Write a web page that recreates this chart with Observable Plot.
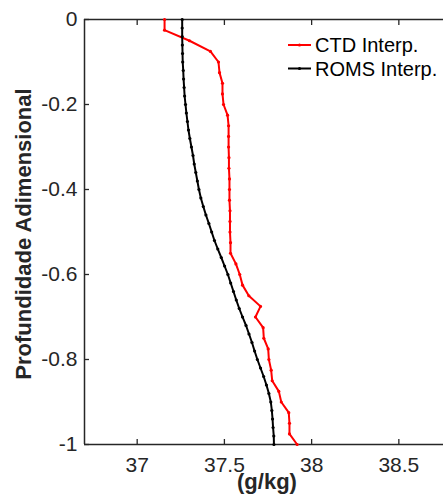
<!DOCTYPE html>
<html>
<head>
<meta charset="utf-8">
<script src="https://cdn.jsdelivr.net/npm/d3@7"></script>
<script src="https://cdn.jsdelivr.net/npm/@observablehq/plot@0.6"></script>
<style>
  html, body { margin: 0; padding: 0; background: #fff; }
  #chart svg { display: block; }
</style>
</head>
<body>
<div id="chart"></div>
<script>
// ---- data ----
const ctdDepth = [0, -0.025, -0.05, -0.075, -0.1, -0.125, -0.15, -0.175, -0.2, -0.225,
  -0.25, -0.275, -0.3, -0.325, -0.35, -0.375, -0.4, -0.425, -0.45, -0.475,
  -0.5, -0.525, -0.55, -0.575, -0.6, -0.625, -0.65, -0.675, -0.7, -0.725,
  -0.75, -0.775, -0.8, -0.825, -0.85, -0.875, -0.9, -0.925, -0.95, -0.975, -1];
const ctdSal = [37.157, 37.157, 37.300, 37.420, 37.466, 37.472, 37.489, 37.489, 37.495, 37.518,
  37.524, 37.524, 37.524, 37.526, 37.526, 37.529, 37.529, 37.529, 37.532, 37.532,
  37.532, 37.535, 37.535, 37.566, 37.588, 37.604, 37.640, 37.707, 37.678, 37.722,
  37.726, 37.751, 37.755, 37.768, 37.774, 37.812, 37.826, 37.869, 37.873, 37.873, 37.917];

const romsDepth = [0, -0.02, -0.04, -0.06, -0.08, -0.1, -0.12, -0.14, -0.16, -0.18,
  -0.2, -0.22, -0.24, -0.26, -0.28, -0.3, -0.32, -0.34, -0.36, -0.38,
  -0.4, -0.42, -0.44, -0.46, -0.48, -0.5, -0.52, -0.54, -0.56, -0.58,
  -0.6, -0.62, -0.64, -0.66, -0.68, -0.7, -0.72, -0.74, -0.76, -0.78,
  -0.8, -0.82, -0.84, -0.86, -0.88, -0.9, -0.92, -0.94, -0.96, -0.98, -1];
const romsSal = [37.258, 37.258, 37.258, 37.259, 37.260, 37.261, 37.264, 37.266, 37.269, 37.272,
  37.277, 37.282, 37.288, 37.294, 37.302, 37.311, 37.320, 37.327, 37.336, 37.345,
  37.354, 37.365, 37.379, 37.394, 37.411, 37.427, 37.443, 37.462, 37.482, 37.501,
  37.520, 37.536, 37.552, 37.568, 37.585, 37.604, 37.624, 37.641, 37.658, 37.673,
  37.689, 37.707, 37.725, 37.741, 37.755, 37.766, 37.772, 37.776, 37.779, 37.783, 37.784];

const seriesNames = ["CTD Interp.", "ROMS Interp."];
const seriesColors = ["#ff0000", "#000000"];
const xTicks = [37, 37.5, 38, 38.5];
const yTicks = [0, -0.2, -0.4, -0.6, -0.8, -1];
const xDomain = [36.698, 38.756];
const yDomain = [-1, 0];
const xLabel = "(g/kg)";
const yLabel = "Profundidade Adimensional";

const ctd = ctdDepth.map((d, i) => ({depth: d, sal: ctdSal[i]}));
const roms = romsDepth.map((d, i) => ({depth: d, sal: romsSal[i]}));

const axisColor = "#262626";
const font = "'Liberation Sans', Arial, Helvetica, sans-serif";

const plot = Plot.plot({
  width: 443,
  height: 498,
  marginLeft: 84,
  marginRight: 0,
  marginTop: 19,
  marginBottom: 54,
  style: {fontFamily: font, fontSize: "21px", color: axisColor, background: "#fff"},
  x: {domain: xDomain},
  y: {domain: yDomain},
  marks: [
    Plot.axisY({ticks: yTicks, tickSize: -5, tickPadding: 12, tickFormat: d => String(d), label: null, strokeWidth: 1.3, stroke: axisColor, fill: axisColor, fontSize: 21}),
    Plot.axisX({ticks: xTicks, tickSize: -5, tickPadding: 18, tickFormat: d => String(d), label: null, strokeWidth: 1.3, stroke: axisColor, fill: axisColor, fontSize: 21}),
    Plot.axisX({anchor: "top", ticks: xTicks, tickSize: -5, tickFormat: () => "", label: null, strokeWidth: 1.3, stroke: axisColor}),
    Plot.ruleX([xDomain[0]], {stroke: axisColor, strokeWidth: 1.5}),
    Plot.ruleY(yDomain, {stroke: axisColor, strokeWidth: 1.5}),
    Plot.line(ctd, {x: "sal", y: "depth", stroke: seriesColors[0], strokeWidth: 2}),
    Plot.dot(ctd, {x: "sal", y: "depth", r: 1.6, fill: seriesColors[0], stroke: null}),
    Plot.line(roms, {x: "sal", y: "depth", stroke: seriesColors[1], strokeWidth: 2}),
    Plot.dot(roms, {x: "sal", y: "depth", r: 1.6, fill: seriesColors[1], stroke: null})
  ]
});

const svg = d3.select(plot);
// axis titles
svg.append("text")
  .attr("transform", "translate(31,234) rotate(-90)")
  .attr("text-anchor", "middle")
  .attr("font-family", font).attr("font-size", 22).attr("font-weight", "bold")
  .attr("fill", axisColor)
  .text(yLabel);
svg.append("text")
  .attr("x", 267).attr("y", 489)
  .attr("text-anchor", "middle")
  .attr("font-family", font).attr("font-size", 22).attr("font-weight", "bold")
  .attr("fill", axisColor)
  .text(xLabel);
// legend
const leg = svg.append("g").attr("text-anchor", "start");
seriesNames.forEach((name, i) => {
  const y = 45 + i * 23.5;
  leg.append("line").attr("x1", 288).attr("x2", 311).attr("y1", y).attr("y2", y)
    .attr("stroke", seriesColors[i]).attr("stroke-width", 2);
  leg.append("circle").attr("cx", 299.5).attr("cy", y).attr("r", 1.6).attr("fill", seriesColors[i]);
  leg.append("text").attr("x", 315).attr("y", y).attr("dy", "0.35em")
    .attr("text-anchor", "start")
    .attr("font-family", font).attr("font-size", 20).attr("fill", "#000")
    .text(name);
});

document.getElementById("chart").appendChild(plot);
</script>
</body>
</html>
